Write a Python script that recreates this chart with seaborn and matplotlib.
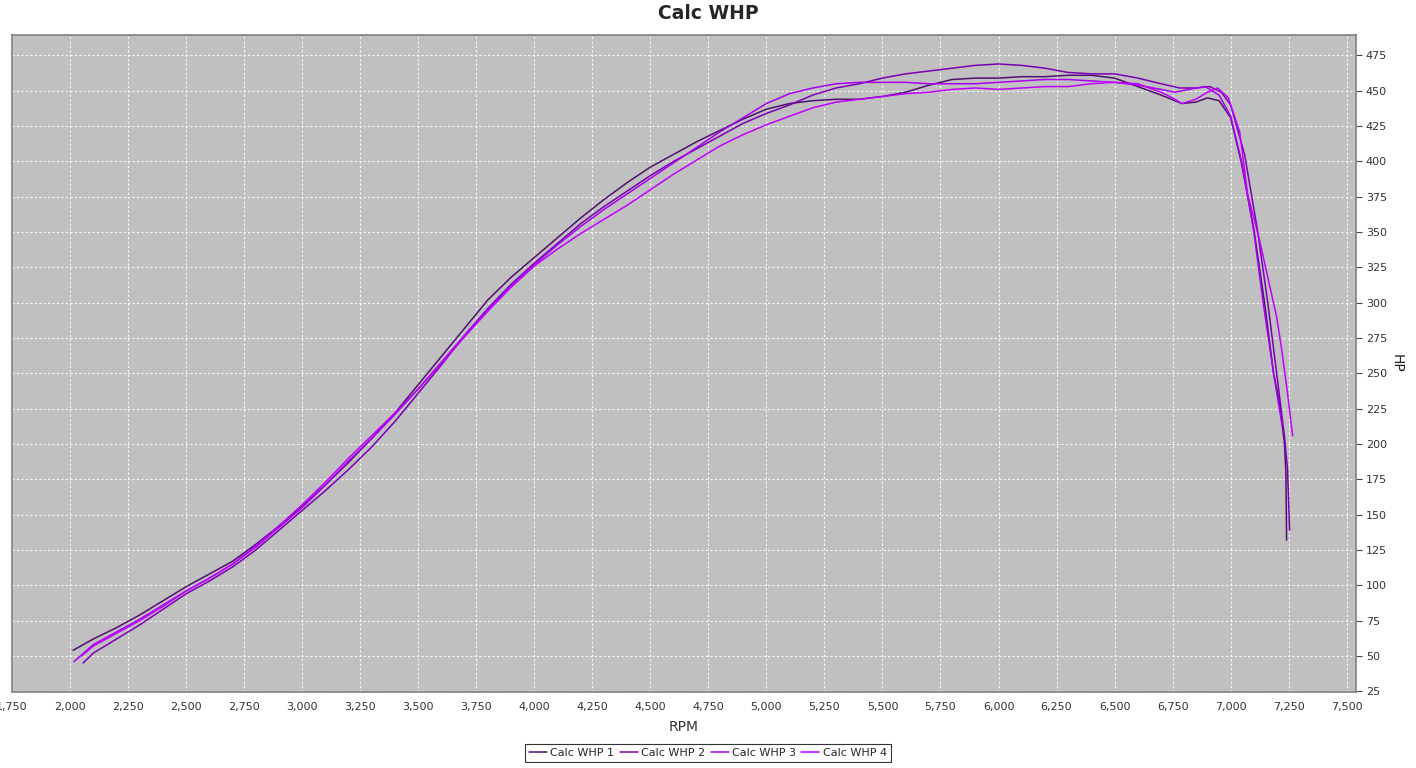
import numpy as np
import pandas as pd
import seaborn as sns
import matplotlib
matplotlib.use("Agg")
import matplotlib.pyplot as plt
from matplotlib.ticker import FuncFormatter, MultipleLocator

# Calc WHP 1 - darkest, starts highest, flat ~444 at 5300-5500
rpm_1 = [2013, 2100, 2200, 2300, 2400, 2500, 2600, 2700, 2800, 2900, 3000, 3100, 3200,
         3300, 3400, 3500, 3600, 3700, 3800, 3900, 4000, 4100, 4200, 4300, 4400, 4500,
         4600, 4700, 4800, 4900, 5000, 5100, 5200, 5300, 5400, 5500, 5600, 5700, 5800,
         5900, 6000, 6100, 6200, 6300, 6400, 6500, 6600, 6700, 6790, 6850, 6900, 6950,
         7000, 7045, 7100, 7146, 7185, 7211, 7232, 7238, 7241]
whp_1 = [54, 62, 70, 79, 89, 99, 108, 117, 129, 142, 156, 171, 187,
         204, 222, 242, 262, 282, 302, 318, 332, 346, 360, 373, 385, 396,
         405, 414, 422, 430, 437, 441, 443, 444, 444, 446, 449, 454, 458,
         459, 459, 460, 460, 461, 461, 459, 453, 447, 441, 442, 445, 443,
         431, 400, 352, 300, 250, 229, 200, 180, 132]

# Calc WHP 2 - peaks highest around 6000
rpm_2 = [2056, 2100, 2200, 2300, 2400, 2500, 2600, 2700, 2800, 2900, 3000, 3100, 3200,
         3300, 3400, 3500, 3600, 3700, 3800, 3900, 4000, 4100, 4200, 4300, 4400, 4500,
         4600, 4700, 4800, 4900, 5000, 5100, 5200, 5300, 5400, 5500, 5600, 5700, 5800,
         5900, 6000, 6100, 6200, 6300, 6400, 6500, 6600, 6700, 6780, 6850, 6910, 6960,
         7000, 7060, 7115, 7160, 7202, 7232, 7245, 7254]
whp_2 = [45, 52, 62, 72, 83, 94, 103, 113, 125, 139, 153, 167, 182,
         198, 216, 236, 256, 277, 296, 313, 328, 342, 356, 368, 379, 390,
         400, 409, 418, 427, 434, 440, 447, 452, 455, 459, 462, 464, 466,
         468, 469, 468, 466, 463, 462, 462, 459, 455, 452, 452, 453, 449,
         440, 405, 352, 300, 245, 205, 182, 139]

# Calc WHP 3 - bright, on top around 5250
rpm_3 = [2017, 2100, 2200, 2300, 2400, 2500, 2600, 2700, 2800, 2900, 3000, 3100, 3200,
         3300, 3400, 3500, 3600, 3700, 3800, 3900, 4000, 4100, 4200, 4300, 4400, 4500,
         4600, 4700, 4800, 4900, 5000, 5100, 5200, 5300, 5400, 5500, 5600, 5700, 5800,
         5900, 6000, 6100, 6200, 6300, 6400, 6500, 6600, 6700, 6760, 6820, 6890, 6950,
         7000, 7050, 7100, 7140, 7185, 7222]
whp_3 = [46, 58, 67, 76, 86, 96, 105, 115, 127, 141, 155, 171, 188,
         204, 221, 239, 258, 277, 295, 312, 327, 341, 354, 366, 377, 388,
         399, 410, 421, 431, 441, 448, 452, 455, 456, 456, 456, 455, 455,
         455, 456, 457, 458, 458, 457, 456, 454, 451, 449, 451, 453, 447,
         432, 398, 350, 300, 250, 213]

# Calc WHP 4 - brightest, lowest around 5000-5500, ends last
rpm_4 = [2050, 2100, 2200, 2300, 2400, 2500, 2600, 2700, 2800, 2900, 3000, 3100, 3200,
         3300, 3400, 3500, 3600, 3700, 3800, 3900, 4000, 4100, 4200, 4300, 4400, 4500,
         4600, 4700, 4800, 4900, 5000, 5100, 5200, 5300, 5400, 5500, 5600, 5700, 5800,
         5900, 6000, 6100, 6200, 6300, 6400, 6500, 6600, 6700, 6750, 6790, 6850, 6900,
         6944, 6990, 7039, 7073, 7125, 7160, 7198, 7219, 7245, 7267]
whp_4 = [50, 57, 66, 75, 85, 96, 105, 115, 128, 142, 157, 173, 190,
         206, 222, 239, 257, 276, 294, 311, 326, 338, 349, 359, 369, 380,
         391, 401, 411, 419, 426, 432, 438, 442, 444, 446, 448, 449, 451,
         452, 451, 452, 453, 453, 455, 456, 455, 449, 445, 441, 444, 449,
         452, 445, 421, 377, 344, 318, 290, 268, 236, 206]

series_names = ["Calc WHP 1", "Calc WHP 2", "Calc WHP 3", "Calc WHP 4"]
series_colors = ["#50106e", "#7a00b5", "#a800f0", "#c000ff"]

df = pd.concat([
    pd.DataFrame({"RPM": r, "HP": h, "series": n})
    for r, h, n in zip([rpm_1, rpm_2, rpm_3, rpm_4], [whp_1, whp_2, whp_3, whp_4], series_names)
], ignore_index=True)

sns.set_style("whitegrid")
plt.rcParams["font.family"] = ["DejaVu Sans"]

fig = plt.figure(figsize=(14.16, 7.68), dpi=100)
ax = fig.add_axes([12 / 1416, 76 / 768, 1344 / 1416, 657 / 768])
ax.set_facecolor("#c0c0c0")

sns.lineplot(data=df, x="RPM", y="HP", hue="series", palette=series_colors,
             estimator=None, sort=False, linewidth=1.1, ax=ax, legend=False)

ax.set_xlim(1750, 7540)
ax.set_ylim(24.5, 489.5)
ax.xaxis.set_major_locator(MultipleLocator(250))
ax.yaxis.set_major_locator(MultipleLocator(25))
ax.xaxis.set_major_formatter(FuncFormatter(lambda v, p: f"{int(v):,}"))
ax.yaxis.tick_right()
ax.yaxis.set_label_position("right")
ax.grid(True, color="white", linestyle=(0, (2, 2)), linewidth=0.8, alpha=0.9)
for s in ax.spines.values():
    s.set_color("#808080")
    s.set_linewidth(1.2)
ax.tick_params(axis="both", labelsize=8, colors="#444444", length=4, width=0.8,
               direction="out", pad=3)
ax.tick_params(axis="both", labelcolor="#333333")
ax.set_xlabel("RPM", fontsize=10, color="#333333", labelpad=6)
ax.set_ylabel("HP", fontsize=10, color="#222222", rotation=270, labelpad=12)

fig.suptitle("Calc WHP", fontsize=13.5, fontweight="bold", y=0.995)

handles = [plt.Line2D([0], [0], color=c, linewidth=1.1) for c in series_colors]
leg = fig.legend(handles, series_names, loc="lower center", bbox_to_anchor=(0.5, 0.0),
                 ncol=4, fontsize=8, frameon=True, fancybox=False, handlelength=1.6,
                 handletextpad=0.3, columnspacing=0.5, borderpad=0.4)
leg.get_frame().set_edgecolor("black")
leg.get_frame().set_linewidth(0.8)

fig.savefig("out.png", dpi=100)
